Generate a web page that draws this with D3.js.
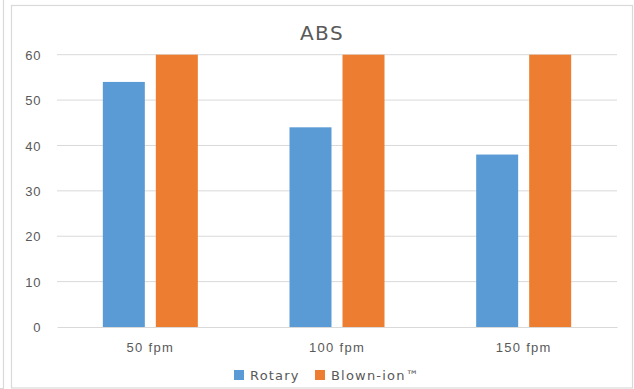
<!DOCTYPE html>
<html>
<head>
<meta charset="utf-8">
<script src="https://cdn.jsdelivr.net/npm/d3@7"></script>
<style>
  html, body { margin: 0; padding: 0; background: #fff; }
  svg { display: block; font-family: "DejaVu Sans", Verdana, sans-serif; }
</style>
</head>
<body>
<svg id="chart" width="634" height="389"></svg>
<script>
// Chart data
const categories = ["50 fpm", "100 fpm", "150 fpm"];
const seriesNames = ["Rotary", "Blown-ion™"];
const rotary = [54, 44, 38];
const blownIon = [60, 60, 60];
const yTicks = [0, 10, 20, 30, 40, 50, 60];
const chartTitle = "ABS";

const colors = ["#5B9BD5", "#ED7D31"];
const textColor = "#595959";
const gridColor = "#D9D9D9";

const svg = d3.select("#chart");

// Frame of the neighbouring panel and chart border
svg.append("path")
  .attr("d", "M3.5,0 V388.5 H0")
  .attr("fill", "none").attr("stroke", "#D9D9D9").attr("stroke-width", 1.2);
svg.append("rect")
  .attr("x", 11.5).attr("y", 5.5).attr("width", 621).attr("height", 382.5)
  .attr("fill", "#fff").attr("stroke", "#D9D9D9").attr("stroke-width", 1.2);

const plot = { left: 57, right: 617, top: 54.7, bottom: 327 };

const x = d3.scaleBand().domain(categories).range([plot.left, plot.right]).padding(0);
const y = d3.scaleLinear().domain([0, 60]).range([plot.bottom, plot.top]);

// Gridlines
svg.append("g").selectAll("line").data(yTicks.filter(t => t > 0)).join("line")
  .attr("x1", plot.left).attr("x2", plot.right)
  .attr("y1", d => y(d)).attr("y2", d => y(d))
  .attr("stroke", gridColor).attr("stroke-width", 1);

// Y axis labels
const yAxis = d3.axisLeft(y).tickValues(yTicks).tickSize(0).tickPadding(0);
const gy = svg.append("g").attr("transform", `translate(${plot.left - 16},0)`).call(yAxis);
gy.select(".domain").remove();
gy.selectAll("text").attr("fill", textColor).style("font-size", "13px")
  .style("letter-spacing", "0.6px").attr("dy", "0.35em");

// Bars
const barW = 42, gap = 11;
const sub = d3.scaleOrdinal().domain([0, 1]).range([-(gap / 2 + barW), gap / 2]);
const data = [rotary, blownIon];
data.forEach((vals, si) => {
  svg.append("g").selectAll("rect").data(vals).join("rect")
    .attr("x", (d, i) => x(categories[i]) + x.bandwidth() / 2 + sub(si))
    .attr("width", barW)
    .attr("y", d => y(d))
    .attr("height", d => y(0) - y(d))
    .attr("fill", colors[si]);
});

// Category axis
const xAxis = d3.axisBottom(x).tickSize(0).tickPadding(0);
const gx = svg.append("g").attr("transform", `translate(0,${plot.bottom})`).call(xAxis);
gx.select(".domain").attr("stroke", gridColor).attr("stroke-width", 1.2);
gx.selectAll("text").attr("fill", textColor).style("font-size", "13px")
  .style("letter-spacing", "1.3px").attr("y", 16);

// Title
svg.append("text").attr("x", 322).attr("y", 40).attr("text-anchor", "middle")
  .attr("fill", textColor).style("font-size", "20px").style("letter-spacing", "1.5px")
  .text(chartTitle);

// Legend
const legendItems = [
  { name: seriesNames[0], color: colors[0], x: 234 },
  { name: seriesNames[1], color: colors[1], x: 315 }
];
const lg = svg.append("g").selectAll("g").data(legendItems).join("g")
  .attr("transform", d => `translate(${d.x},370)`);
lg.append("rect").attr("width", 10).attr("height", 10).attr("fill", d => d.color);
lg.append("text").attr("x", 16).attr("y", 10).attr("fill", textColor)
  .style("font-size", "13px").style("letter-spacing", "1.2px").text(d => d.name);
</script>
</body>
</html>
